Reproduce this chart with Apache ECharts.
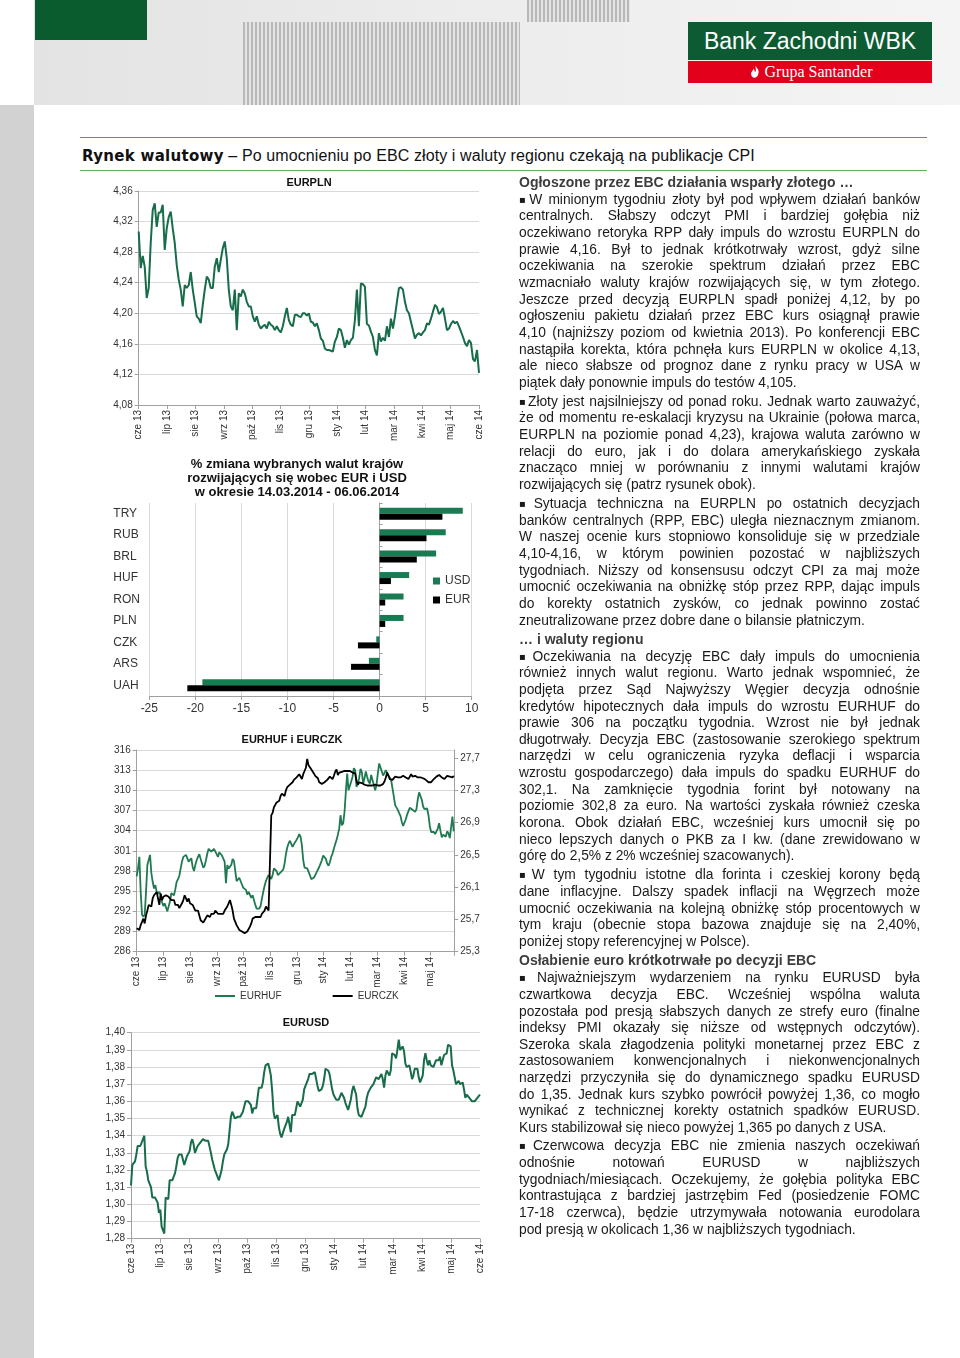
<!DOCTYPE html>
<html><head><meta charset="utf-8">
<script src="https://cdn.jsdelivr.net/npm/echarts@6/dist/echarts.min.js"></script>
<style>
html,body{margin:0;padding:0;background:#fff;}
#page{position:relative;width:960px;height:1358px;overflow:hidden;font-family:"Liberation Sans",Arial,sans-serif;background:#fff;}
.abs{position:absolute;}
.strip{left:0;top:105px;width:34px;height:1253px;background:#d2d2d2;}
.hdr{left:34px;top:0;width:926px;height:105px;background:linear-gradient(90deg,#e3e3e3 0%,#ececec 45%,#f4f4f4 100%);}
.gbox{left:35px;top:0;width:112px;height:40px;background:#0a5c2e;}
.stripes{background:repeating-linear-gradient(90deg,#b8b8b8 0 2px,#e4e4e4 2px 4px);}
.st1{left:243px;top:22px;width:277px;height:83px;}
.st2{left:527px;top:0;width:103px;height:22px;}
.lg{left:688px;top:22px;width:244px;height:38px;background:#0c5b32;color:#fff;font-size:23px;line-height:38px;text-align:center;}
.lr{left:688px;top:61px;width:244px;height:22px;background:#e2001a;color:#fff;font-family:"Liberation Serif",serif;font-size:16px;line-height:22px;text-align:center;}
.lr svg{vertical-align:-2px;margin-right:3px;}
.r1{left:80px;top:137px;width:847px;height:1px;background:#4f9f4f;}
.r2{left:80px;top:170px;width:847px;height:1px;background:#6aab6a;}
.ttl{left:82px;top:146px;font-size:16px;line-height:20px;color:#111;white-space:nowrap;letter-spacing:0.1px;}
.ttl b{font-family:"DejaVu Sans",sans-serif;font-size:15px;letter-spacing:0.3px;}
#chart{left:0;top:0;width:960px;height:1358px;}
#text{left:519px;top:173.7px;width:401px;font-size:13.8px;line-height:16.67px;color:#1a1a1a;}
#text .h{font-weight:bold;color:#3d3d3d;font-size:14px;height:16.67px;white-space:nowrap;}
#text .l{text-align:justify;text-align-last:justify;height:16.67px;}
#text .l.e{text-align-last:left;}
#text .m1{margin-top:1.3px;}
#text .m2{margin-top:2.3px;}
#text .m3{margin-top:1.6px;}
.b{font-family:"DejaVu Sans",sans-serif;font-size:10px;margin-right:1px;position:relative;top:-1px;}
</style></head><body>
<div id="page">
<div class="abs strip"></div>
<div class="abs hdr"></div>
<div class="abs gbox"></div>
<div class="abs stripes st1"></div>
<div class="abs stripes st2"></div>
<div class="abs lg">Bank Zachodni WBK</div>
<div class="abs lr"><svg width="14" height="15" viewBox="0 0 16 16"><path d="M8 1C10 4 13 6 12 10C11.5 13 9.5 15 8 15C5 15 3.5 13 3.5 10.5C3.5 8 6 7 6.5 4.5C7.5 6 7 8 8.5 8.5C9.5 6.5 9 3.5 8 1Z" fill="#fff"/></svg>Grupa Santander</div>
<div class="abs r1"></div>
<div class="abs ttl"><b>Rynek walutowy</b> – Po umocnieniu po EBC złoty i waluty regionu czekają na publikacje CPI</div>
<div class="abs r2"></div>
<div id="chart" class="abs"></div>
<div id="text" class="abs">
<div class="h">Ogłoszone przez EBC działania wsparły złotego …</div>
<div class="m1">
<div class="l"><span class="b">▪</span>W minionym tygodniu złoty był pod wpływem działań banków</div>
<div class="l">centralnych. Słabszy odczyt PMI i bardziej gołębia niż</div>
<div class="l">oczekiwano retoryka RPP dały impuls do wzrostu EURPLN do</div>
<div class="l">prawie 4,16. Był to jednak krótkotrwały wzrost, gdyż silne</div>
<div class="l">oczekiwania na szerokie spektrum działań przez EBC</div>
<div class="l">wzmacniało waluty krajów rozwijających się, w tym złotego.</div>
<div class="l">Jeszcze przed decyzją EURPLN spadł poniżej 4,12, by po</div>
<div class="l">ogłoszeniu pakietu działań przez EBC kurs osiągnął prawie</div>
<div class="l">4,10 (najniższy poziom od kwietnia 2013). Po konferencji EBC</div>
<div class="l">nastąpiła korekta, która pchnęła kurs EURPLN w okolice 4,13,</div>
<div class="l">ale nieco słabsze od prognoz dane z rynku pracy w USA w</div>
<div class="l e">piątek dały ponownie impuls do testów 4,105.</div>
</div>
<div class="m2">
<div class="l"><span class="b">▪</span>Złoty jest najsilniejszy od ponad roku. Jednak warto zauważyć,</div>
<div class="l">że od momentu re-eskalacji kryzysu na Ukrainie (połowa marca,</div>
<div class="l">EURPLN na poziomie ponad 4,23), krajowa waluta zarówno w</div>
<div class="l">relacji do euro, jak i do dolara amerykańskiego zyskała</div>
<div class="l">znacząco mniej w porównaniu z innymi walutami krajów</div>
<div class="l e">rozwijających się (patrz rysunek obok).</div>
</div>
<div class="m2">
<div class="l"><span class="b">▪</span>Sytuacja techniczna na EURPLN po ostatnich decyzjach</div>
<div class="l">banków centralnych (RPP, EBC) uległa nieznacznym zmianom.</div>
<div class="l">W naszej ocenie kurs stopniowo konsoliduje się w przedziale</div>
<div class="l">4,10-4,16, w którym powinien pozostać w najbliższych</div>
<div class="l">tygodniach. Niższy od konsensusu odczyt CPI za maj może</div>
<div class="l">umocnić oczekiwania na obniżkę stóp przez RPP, dając impuls</div>
<div class="l">do korekty ostatnich zysków, co jednak powinno zostać</div>
<div class="l e">zneutralizowane przez dobre dane o bilansie płatniczym.</div>
</div>
<div class="h m1">… i waluty regionu</div>
<div class="m1">
<div class="l"><span class="b">▪</span>Oczekiwania na decyzję EBC dały impuls do umocnienia</div>
<div class="l">również innych walut regionu. Warto jednak wspomnieć, że</div>
<div class="l">podjęta przez Sąd Najwyższy Węgier decyzja odnośnie</div>
<div class="l">kredytów hipotecznych dała impuls do wzrostu EURHUF do</div>
<div class="l">prawie 306 na początku tygodnia. Wzrost nie był jednak</div>
<div class="l">długotrwały. Decyzja EBC (zastosowanie szerokiego spektrum</div>
<div class="l">narzędzi w celu ograniczenia ryzyka deflacji i wsparcia</div>
<div class="l">wzrostu gospodarczego) dała impuls do spadku EURHUF do</div>
<div class="l">302,1. Na zamknięcie tygodnia forint był notowany na</div>
<div class="l">poziomie 302,8 za euro. Na wartości zyskała również czeska</div>
<div class="l">korona. Obok działań EBC, wcześniej kurs umocnił się po</div>
<div class="l">nieco lepszych danych o PKB za I kw. (dane zrewidowano w</div>
<div class="l e">górę do 2,5% z 2% wcześniej szacowanych).</div>
</div>
<div class="m2">
<div class="l"><span class="b">▪</span>W tym tygodniu istotne dla forinta i czeskiej korony będą</div>
<div class="l">dane inflacyjne. Dalszy spadek inflacji na Węgrzech może</div>
<div class="l">umocnić oczekiwania na kolejną obniżkę stóp procentowych w</div>
<div class="l">tym kraju (obecnie stopa bazowa znajduje się na 2,40%,</div>
<div class="l e">poniżej stopy referencyjnej w Polsce).</div>
</div>
<div class="h m1">Osłabienie euro krótkotrwałe po decyzji EBC</div>
<div class="m3">
<div class="l"><span class="b">▪</span>Najważniejszym wydarzeniem na rynku EURUSD była</div>
<div class="l">czwartkowa decyzja EBC. Wcześniej wspólna waluta</div>
<div class="l">pozostała pod presją słabszych danych ze strefy euro (finalne</div>
<div class="l">indeksy PMI okazały się niższe od wstępnych odczytów).</div>
<div class="l">Szeroka skala złagodzenia polityki monetarnej przez EBC z</div>
<div class="l">zastosowaniem konwencjonalnych i niekonwencjonalnych</div>
<div class="l">narzędzi przyczyniła się do dynamicznego spadku EURUSD</div>
<div class="l">do 1,35. Jednak kurs szybko powrócił powyżej 1,36, co mogło</div>
<div class="l">wynikać z technicznej korekty ostatnich spadków EURUSD.</div>
<div class="l e">Kurs stabilizował się nieco powyżej 1,365 po danych z USA.</div>
</div>
<div class="m3">
<div class="l"><span class="b">▪</span>Czerwcowa decyzja EBC nie zmienia naszych oczekiwań</div>
<div class="l">odnośnie notowań EURUSD w najbliższych</div>
<div class="l">tygodniach/miesiącach. Oczekujemy, że gołębia polityka EBC</div>
<div class="l">kontrastująca z bardziej jastrzębim Fed (posiedzenie FOMC</div>
<div class="l">17-18 czerwca), będzie utrzymywała notowania eurodolara</div>
<div class="l e">pod presją w okolicach 1,36 w najbliższych tygodniach.</div>
</div>
</div>
</div>
<script>
// ---------- DATA ----------
const months = ['cze 13','lip 13','sie 13','wrz 13','paź 13','lis 13','gru 13','sty 14','lut 14','mar 14','kwi 14','maj 14','cze 14'];

// EURPLN, evenly spaced observations, 3 Jun 2013 - 6 Jun 2014 (12 months)
const eurplnSpan = 12;
const eurpln = [4.307,4.259,4.275,4.261,4.220,4.233,4.292,4.335,4.344,4.313,4.332,4.332,4.342,4.283,4.311,4.326,4.333,4.311,4.292,4.263,
4.244,4.231,4.209,4.237,4.233,4.237,4.254,4.231,4.214,4.196,4.193,4.187,4.211,4.231,4.248,4.244,4.233,4.233,4.261,4.272,
4.254,4.270,4.285,4.294,4.272,4.231,4.209,4.204,4.231,4.178,4.226,4.222,4.231,4.226,4.215,4.209,4.209,4.196,4.189,4.196,
4.185,4.180,4.183,4.185,4.180,4.189,4.185,4.183,4.178,4.183,4.178,4.175,4.183,4.196,4.207,4.191,4.185,4.183,4.198,4.198,
4.196,4.195,4.200,4.200,4.197,4.200,4.189,4.188,4.183,4.187,4.178,4.167,4.164,4.154,4.152,4.152,4.151,4.150,4.163,4.169,
4.180,4.178,4.168,4.155,4.165,4.159,4.165,4.168,4.191,4.231,4.183,4.239,4.238,4.235,4.186,4.184,4.176,4.169,4.152,4.145,
4.174,4.163,4.168,4.164,4.183,4.169,4.193,4.180,4.196,4.215,4.233,4.234,4.231,4.215,4.204,4.200,4.189,4.178,4.167,4.172,
4.174,4.171,4.175,4.178,4.187,4.185,4.193,4.202,4.211,4.208,4.199,4.202,4.207,4.193,4.178,4.180,4.186,4.190,4.187,4.189,
4.183,4.176,4.169,4.161,4.157,4.165,4.161,4.140,4.137,4.152,4.122];

// % change vs USD and EUR, 14.03.2014 - 06.06.2014
const fxCodes = ['TRY','RUB','BRL','HUF','RON','PLN','CZK','ARS','UAH'];
const chgUSD = [9.03,7.18,6.14,3.21,2.60,2.60,-0.36,-1.16,-19.24];
const chgEUR = [6.82,5.09,4.04,1.23,0.61,0.61,-2.35,-3.10,-20.87];

// EURHUF and EURCZK, evenly spaced observations over 11.87 months from 3 Jun 2013
const hufSpan = 11.87;
const eurhuf = [297.2,298.4,300.1,294.9,291.5,291.2,291.5,294.9,298.9,299.1,300.4,297.7,296.4,295.4,295.9,294.9,294.6,294.9,294.5,293.4,
292.8,293.2,293.0,292.0,292.1,293.5,294.7,294.5,294.4,295.3,296.4,296.8,297.3,298.4,299.4,300.1,300.3,300.4,300.3,299.4,
299.5,299.9,298.6,298.0,298.9,299.6,300.1,300.5,300.3,299.1,298.5,298.8,299.6,300.6,301.3,301.4,300.9,300.9,301.3,301.3,
300.5,300.1,300.8,300.9,300.3,300.1,299.4,296.2,298.9,298.4,298.2,298.9,299.8,299.5,298.0,296.5,296.3,297.0,296.9,296.0,
295.5,295.7,295.2,294.5,294.9,294.7,294.0,294.4,294.2,293.0,292.4,292.2,292.4,292.8,293.9,294.9,295.8,296.5,297.0,297.4,
297.2,296.8,297.4,298.4,298.6,298.0,297.4,297.3,297.8,298.0,298.2,299.1,300.5,301.5,302.1,302.5,302.3,301.6,302.0,302.3,
302.3,303.0,303.5,303.1,301.8,299.6,298.5,298.5,298.4,298.2,297.4,296.8,296.9,297.0,297.4,297.8,298.0,298.6,299.1,299.6,
300.3,300.4,299.8,299.1,298.8,299.3,300.1,300.6,301.3,302.0,302.6,303.4,304.3,306.3,304.8,305.1,306.8,309.8,312.5,310.0,
309.8,311.3,312.0,313.3,313.0,310.5,310.3,311.8,313.2,312.7,311.0,311.8,312.8,312.0,311.3,311.0,312.3,312.5,310.8,310.0,
310.8,312.5,314.0,313.8,312.8,312.2,312.4,313.0,312.5,312.2,312.4,311.5,310.3,309.1,307.8,307.6,307.1,306.6,306.2,305.3,
304.7,304.8,305.7,306.4,306.9,307.4,307.6,307.1,306.9,306.8,307.2,308.7,309.7,309.6,308.6,307.6,307.2,307.3,307.3,306.3,
304.7,303.8,303.8,303.8,303.5,303.4,304.3,305.1,304.0,303.0,303.4,303.4,303.1,303.9,303.6,302.9,303.1,306.1,303.9];
const eurczk = [25.59,25.61,25.57,25.63,25.67,25.71,25.65,25.75,25.81,25.88,25.90,25.86,25.96,26.00,26.02,26.04,26.06,25.88,26.02,25.94,
25.98,25.99,26.00,26.00,25.98,25.96,25.94,25.96,25.94,25.88,25.90,25.88,25.84,25.86,25.90,25.94,26.00,25.98,25.92,25.96,
25.90,25.88,25.88,25.86,25.81,25.79,25.81,25.75,25.69,25.67,25.66,25.69,25.69,25.75,25.73,25.73,25.77,25.79,25.77,25.81,
25.79,25.77,25.79,25.77,25.75,25.77,25.81,25.81,25.86,25.90,25.94,25.88,25.81,25.71,25.67,25.63,25.65,25.57,25.57,25.55,
25.53,25.53,25.51,25.55,25.53,25.61,25.65,25.71,25.73,25.73,25.75,25.73,25.75,25.73,25.77,25.79,25.81,25.86,25.84,25.81,
25.80,26.99,27.02,27.09,27.12,27.15,27.16,27.17,27.23,27.26,27.28,27.23,27.30,27.34,27.36,27.37,27.38,27.40,27.43,27.45,
27.46,27.48,27.50,27.48,27.44,27.50,27.54,27.58,27.69,27.61,27.63,27.56,27.54,27.51,27.48,27.46,27.45,27.40,27.38,27.38,
27.39,27.40,27.41,27.43,27.44,27.47,27.46,27.44,27.48,27.53,27.56,27.49,27.52,27.54,27.53,27.53,27.54,27.54,27.54,27.52,
27.54,27.54,27.52,27.52,27.51,27.42,27.37,27.40,27.42,27.39,27.38,27.37,27.36,27.36,27.37,27.36,27.35,27.36,27.36,27.37,
27.37,27.36,27.37,27.36,27.37,27.38,27.41,27.46,27.52,27.48,27.44,27.43,27.43,27.45,27.47,27.48,27.46,27.45,27.46,27.47,
27.48,27.47,27.46,27.45,27.44,27.47,27.50,27.47,27.46,27.48,27.47,27.46,27.46,27.46,27.45,27.45,27.44,27.43,27.41,27.40,
27.39,27.40,27.42,27.44,27.46,27.47,27.48,27.49,27.48,27.46,27.45,27.44,27.46,27.48,27.48,27.47,27.47,27.46,27.48];

// EURUSD, evenly spaced observations, 3 Jun 2013 - 6 Jun 2014 (12 months)
const usdSpan = 12;
const eurusd = [1.311,1.323,1.322,1.325,1.329,1.334,1.334,1.334,1.335,1.338,1.340,1.322,1.319,1.314,1.312,1.310,1.304,1.303,1.304,1.304,
1.301,1.295,1.297,1.287,1.286,1.283,1.304,1.303,1.303,1.314,1.313,1.314,1.316,1.318,1.322,1.327,1.329,1.328,1.329,1.328,
1.323,1.324,1.328,1.327,1.331,1.336,1.338,1.335,1.330,1.332,1.334,1.334,1.336,1.337,1.338,1.337,1.337,1.336,1.337,1.336,
1.330,1.326,1.323,1.320,1.318,1.318,1.314,1.317,1.320,1.325,1.329,1.330,1.332,1.335,1.335,1.351,1.354,1.352,1.350,1.351,
1.351,1.350,1.351,1.351,1.354,1.355,1.360,1.361,1.360,1.359,1.358,1.353,1.356,1.356,1.356,1.355,1.368,1.367,1.368,1.371,
1.377,1.381,1.382,1.382,1.379,1.375,1.366,1.354,1.350,1.351,1.352,1.345,1.341,1.339,1.339,1.344,1.345,1.348,1.351,1.352,
1.342,1.352,1.351,1.352,1.356,1.360,1.361,1.357,1.356,1.361,1.367,1.369,1.370,1.373,1.376,1.377,1.376,1.377,1.377,1.376,
1.369,1.366,1.366,1.367,1.369,1.373,1.379,1.379,1.378,1.376,1.375,1.367,1.364,1.363,1.361,1.362,1.361,1.362,1.365,1.366,
1.362,1.359,1.358,1.355,1.354,1.361,1.366,1.369,1.368,1.364,1.356,1.352,1.351,1.351,1.352,1.355,1.357,1.362,1.365,1.366,
1.368,1.369,1.370,1.371,1.374,1.373,1.373,1.374,1.376,1.373,1.368,1.375,1.378,1.377,1.375,1.378,1.388,1.388,1.387,1.385,
1.390,1.396,1.390,1.391,1.392,1.389,1.382,1.380,1.380,1.381,1.377,1.373,1.375,1.379,1.378,1.379,1.374,1.371,1.372,1.375,
1.384,1.388,1.384,1.381,1.384,1.381,1.381,1.380,1.381,1.384,1.384,1.384,1.386,1.381,1.380,1.387,1.388,1.388,1.393,1.394,
1.392,1.381,1.378,1.374,1.370,1.369,1.372,1.370,1.370,1.371,1.367,1.362,1.364,1.364,1.362,1.361,1.360,1.360,1.360,1.360,
1.362,1.362,1.364];

// ---------- CHART ----------
const GREEN = '#176c49', BAR_GREEN = '#1a7a52', AX = '#a0a0a0', GRIDC = '#d9d9d9', LBL = '#333';
const NARROW = '"Liberation Sans Narrow","Arial Narrow","Liberation Sans",Arial,sans-serif';
const SANS = '"Liberation Sans",Arial,sans-serif';
const pts = (vals, span) => vals.map((v, i) => [i * span / (vals.length - 1), v]);
const fmt = d => v => v.toFixed(d).replace('.', ',');
const monthLabel = v => (Number.isInteger(v) && months[v]) ? months[v] : '';

function monthAxis(gridIndex, max) {
  return { type: 'value', gridIndex, min: 0, max, interval: 1,
    axisLine: { show: true, onZero: false, lineStyle: { color: AX } },
    axisTick: { show: true, length: 4, lineStyle: { color: AX } },
    splitLine: { show: false },
    axisLabel: { rotate: 90, margin: 5, fontSize: 10, color: LBL, fontFamily: NARROW, formatter: monthLabel } };
}
function rateAxis(gridIndex, min, max, interval, d, position, split) {
  return { type: 'value', gridIndex, min, max, interval, position,
    axisLine: { show: true, onZero: false, lineStyle: { color: AX } },
    axisTick: { show: true, length: 4, lineStyle: { color: AX } },
    splitLine: { show: split, lineStyle: { color: GRIDC } },
    axisLabel: { margin: 6, fontSize: 10, color: LBL, fontFamily: NARROW, formatter: fmt(d), showMaxLabel: split } };
}

const chart = echarts.init(document.getElementById('chart'), null, { renderer: 'canvas', width: 960, height: 1358 });
chart.setOption({
  animation: false,
  backgroundColor: 'transparent',
  grid: [
    { left: 138.7, top: 191, width: 340.3, height: 214, outerBoundsMode: 'none' },
    { left: 149.3, top: 503, width: 322.4, height: 193, outerBoundsMode: 'none' },
    { left: 136.7, top: 750, width: 317.6, height: 201.7, outerBoundsMode: 'none' },
    { left: 131, top: 1032.7, width: 349, height: 206, outerBoundsMode: 'none' }
  ],
  xAxis: [
    monthAxis(0, 12),
    { type: 'value', gridIndex: 1, min: -25, max: 10, interval: 5,
      axisLine: { show: true, onZero: false, lineStyle: { color: AX } },
      axisTick: { show: true, length: 4, lineStyle: { color: AX } },
      splitLine: { show: true, lineStyle: { color: GRIDC } },
      axisLabel: { margin: 7, fontSize: 12, color: LBL, fontFamily: SANS } },
    monthAxis(2, 11.89),
    monthAxis(3, 12)
  ],
  yAxis: [
    rateAxis(0, 4.08, 4.36, 0.04, 2, 'left', true),
    { type: 'category', gridIndex: 1, data: fxCodes, inverse: true, position: 'left',
      axisLine: { show: false, onZero: false }, axisTick: { show: false }, splitLine: { show: false },
      axisLabel: { align: 'left', margin: 36, fontSize: 12, color: LBL, fontFamily: SANS } },
    { type: 'category', gridIndex: 1, data: fxCodes, inverse: true, position: 'left',
      axisLine: { show: true, onZero: true, lineStyle: { color: AX } },
      axisTick: { show: true, inside: true, length: 3, lineStyle: { color: AX } },
      splitLine: { show: false }, axisLabel: { show: false } },
    rateAxis(2, 286, 316, 3, 0, 'left', true),
    rateAxis(2, 25.3, 27.8, 0.4, 1, 'right', false),
    rateAxis(3, 1.28, 1.40, 0.01, 2, 'left', true)
  ],
  legend: [
    { data: ['USD', 'EUR'], orient: 'vertical', left: 433, top: 575, itemWidth: 7, itemHeight: 7, itemGap: 7,
      icon: 'rect', padding: 0, selectedMode: false, textStyle: { fontSize: 12, color: LBL, fontFamily: SANS } },
    { data: ['EURHUF', 'EURCZK'], orient: 'horizontal', left: 215, top: 991, itemWidth: 20, itemHeight: 2, itemGap: 51,
      icon: 'rect', padding: 0, selectedMode: false, textStyle: { fontSize: 10, color: LBL, fontFamily: NARROW } }
  ],
  graphic: [
    { type: 'text', x: 309, y: 183, style: { text: 'EURPLN', font: 'bold 11px "Liberation Sans"', fill: '#111', align: 'center', verticalAlign: 'middle' } },
    { type: 'text', x: 297, y: 478, style: { text: '% zmiana wybranych walut krajów\nrozwijających się wobec EUR i USD\nw okresie 14.03.2014 - 06.06.2014', font: 'bold 13px "Liberation Sans"', lineHeight: 14, fill: '#111', align: 'center', verticalAlign: 'middle' } },
    { type: 'text', x: 292, y: 740, style: { text: 'EURHUF i EURCZK', font: 'bold 11px "Liberation Sans"', fill: '#111', align: 'center', verticalAlign: 'middle' } },
    { type: 'text', x: 306, y: 1023, style: { text: 'EURUSD', font: 'bold 11px "Liberation Sans"', fill: '#111', align: 'center', verticalAlign: 'middle' } }
  ],
  series: [
    { name: 'EURPLN', type: 'line', xAxisIndex: 0, yAxisIndex: 0, data: pts(eurpln, eurplnSpan), showSymbol: false,
      lineStyle: { color: GREEN, width: 2 }, itemStyle: { color: GREEN } },
    { name: 'USD', type: 'bar', xAxisIndex: 1, yAxisIndex: 1, data: chgUSD, barWidth: 6, barGap: '0%', itemStyle: { color: BAR_GREEN } },
    { name: 'EUR', type: 'bar', xAxisIndex: 1, yAxisIndex: 1, data: chgEUR, barWidth: 6, barGap: '0%', itemStyle: { color: '#000' } },
    { name: 'EURHUF', type: 'line', xAxisIndex: 2, yAxisIndex: 3, data: pts(eurhuf, hufSpan), showSymbol: false,
      lineStyle: { color: '#1f7a52', width: 1.8 }, itemStyle: { color: '#1f7a52' } },
    { name: 'EURCZK', type: 'line', xAxisIndex: 2, yAxisIndex: 4, data: pts(eurczk, hufSpan), showSymbol: false,
      lineStyle: { color: '#000', width: 1.8 }, itemStyle: { color: '#000' } },
    { name: 'EURUSD', type: 'line', xAxisIndex: 3, yAxisIndex: 5, data: pts(eurusd, usdSpan), showSymbol: false,
      lineStyle: { color: GREEN, width: 2 }, itemStyle: { color: GREEN } }
  ]
});
</script>
</body></html>
